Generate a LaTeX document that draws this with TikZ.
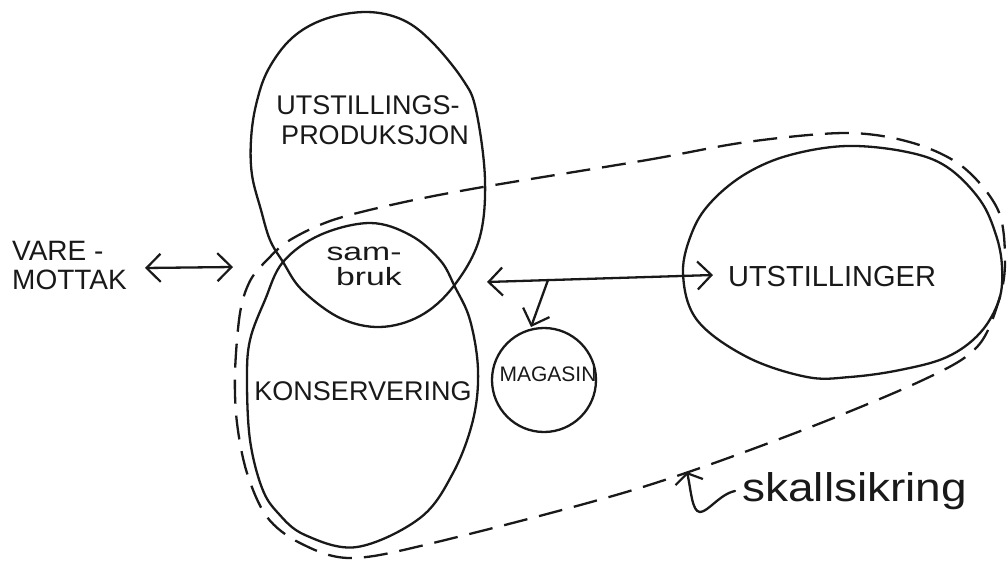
\documentclass[tikz,border=0pt]{standalone}
\usepackage{fontspec}
\setmainfont{Liberation Sans}
\usetikzlibrary{arrows.meta}
\tikzset{vtip/.tip={Straight Barb[length=14pt,width=28pt,line width=2.2pt]}}
\begin{document}
\begin{tikzpicture}[x=1pt,y=-1pt,
  ink/.style={line width=2.3pt,draw=black!90,line join=round,line cap=round},
  dashline/.style={line width=2.3pt,draw=black!90,dash pattern=on 24pt off 12pt},
  dbl/.style={ink,vtip-vtip},
  sgl/.style={ink,-vtip},
  lbl/.style={inner sep=0pt,text=black!90,align=center},
]
\useasboundingbox (0,0) rectangle (1008,561);

% upper region: UTSTILLINGS-PRODUKSJON
\draw[ink] plot[smooth cycle,tension=0.6] coordinates {
 (367,12)(403,20)(432,42)(463,80)(476,110)(485,180)(479,240)(453,287)(420,316)(380,327)
 (340,318)(302,290)(283,262)(270,240)(261,210)(252,175)(251,140)(256,105)(268,70)(292,38)(325,19)};

% lower region: KONSERVERING
\draw[ink] plot[smooth cycle,tension=0.6] coordinates {
 (370,223)(410,235)(440,260)(455,287)(470,320)(478,370)(473,420)(453,473)(420,518)
 (357,547)(305,535)(278,513)(262,488)(250,440)(247,380)(250,340)(265,300)(283,262)(320,235)};

% magasin
\draw[ink] (544,380) circle[radius=52];

% utstillinger
\draw[ink] plot[smooth cycle,tension=0.6] coordinates {
 (847,146)(907,152)(947,167)(980,200)(996,235)(1002,267)(999,300)(980,333)(947,357)
 (900,370)(850,377)(807,377)(747,357)(697,320)(683,273)(693,230)(713,200)(747,173)(790,155)};

% dashed enclosure (skallsikring)
\draw[dashline] plot[smooth cycle,tension=0.55] coordinates {
 (483,187)(647,160)(747,142)(847,133)(913,143)(963,167)(998,210)(1005,260)(999,300)
 (977,347)(923,380)(790,435)(633,490)(433,543)(350,558)(300,543)(267,517)(247,473)
 (237,423)(235,373)(240,313)(250,281)(267,260)(290,240)(333,220)(400,203)};

% labels
\node[lbl,font=\fontsize{27}{30}\selectfont] (prod) at (368,120)
  {UTSTILLINGS-\\\hspace*{14pt}PRODUKSJON};
\node[lbl,font=\fontsize{25}{25}\selectfont] (sambruk) at (364,266)
  {\scalebox{1.35}[1]{sam-}\\\hspace*{10pt}\scalebox{1.35}[1]{bruk}};
\node[lbl,font=\fontsize{27}{29}\selectfont] (kons) at (363,391) {KONSERVERING};
\node[lbl,font=\fontsize{21}{23}\selectfont] (mag) at (548,374) {MAGASIN};
\node[lbl,font=\fontsize{29}{31}\selectfont] (utst) at (832,277) {UTSTILLINGER};
\node[lbl,font=\fontsize{28}{29}\selectfont,align=left,anchor=west] (vare) at (12,266)
  {VARE -\\MOTTAK};
\node[lbl,font=\fontsize{40}{42}\selectfont,anchor=base west] (skall) at (742,501)
  {\scalebox{1.15}[1]{skallsikring}};

% connectors
\coordinate (vL) at (145,268);
\coordinate (vR) at (233,267);
\draw[dbl] (vL) -- (vR);

\coordinate (sL) at (487,282);
\coordinate (sR) at (713,275);
\draw[dbl] (sL) -- (sR);

\coordinate (br) at (548,280);
\coordinate (magtop) at (531,327);
\draw[sgl] (br) -- (magtop);

\coordinate (skA) at (735,491);
\coordinate (skT) at (687,472);
\draw[ink,-{Straight Barb[length=9pt,width=28pt,line width=2.2pt]}]
  (skA) .. controls (720,494) and (708,512) .. (700,512)
        .. controls (692,512) and (691,490) .. (skT);
\end{tikzpicture}
\end{document}
